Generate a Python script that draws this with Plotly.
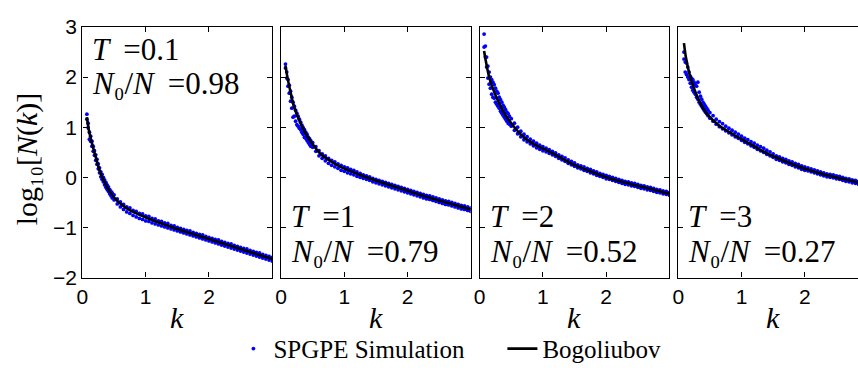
import plotly.graph_objects as go

# ---------------------------------------------------------------------------
# Momentum-space occupation log10[N(k)] : SPGPE simulation vs Bogoliubov theory
# ---------------------------------------------------------------------------

TEMPS = ["0.1", "1", "2", "3"]
COND_FRAC = ["0.98", "0.79", "0.52", "0.27"]

# k samples of the simulation (panels T=0.1, 1, 2)
K_SIM = [0.07, 0.09, 0.11, 0.13, 0.15, 0.17, 0.19, 0.21, 0.23, 0.25, 0.27, 0.29, 0.31,
         0.33, 0.35, 0.37, 0.39, 0.41, 0.43, 0.45, 0.47,
         0.50, 0.55, 0.60, 0.65, 0.70, 0.75, 0.80, 0.85, 0.90, 0.95, 1.00,
         1.05, 1.10, 1.15, 1.20, 1.25, 1.30, 1.35, 1.40, 1.45, 1.50,
         1.55, 1.60, 1.65, 1.70, 1.75, 1.80, 1.85, 1.90, 1.95, 2.00,
         2.05, 2.10, 2.15, 2.20, 2.25, 2.30, 2.35, 2.40, 2.45, 2.50,
         2.55, 2.60, 2.65, 2.70, 2.75, 2.80, 2.85, 2.90, 2.95, 3.00]
# k samples of the simulation (panel T=3)
K_SIM_T3 = [0.09, 0.11, 0.13, 0.15, 0.17, 0.19, 0.21, 0.23, 0.25, 0.27, 0.29, 0.31,
            0.33, 0.35, 0.37, 0.39, 0.41, 0.43, 0.45, 0.47,
            0.50, 0.55, 0.60, 0.65, 0.70, 0.75, 0.80, 0.85, 0.90, 0.95, 1.00,
            1.05, 1.10, 1.15, 1.20, 1.25, 1.30, 1.35, 1.40, 1.45, 1.50,
            1.55, 1.60, 1.65, 1.70, 1.75, 1.80, 1.85, 1.90, 1.95, 2.00,
            2.05, 2.10, 2.15, 2.20, 2.25, 2.30, 2.35, 2.40, 2.45, 2.50,
            2.55, 2.60, 2.65, 2.70, 2.75, 2.80, 2.85]

# SPGPE samples: upper and lower members of the scattered cloud at each k
SIM_T01_HI = [1.26, 1.08, 0.90, 0.82, 0.72, 0.62, 0.53, 0.45, 0.36, 0.27, 0.19, 0.11, 0.06,
              0.00, -0.05, -0.10, -0.15, -0.19, -0.24, -0.28, -0.31,
              -0.35, -0.43, -0.49, -0.54, -0.59, -0.61, -0.66, -0.68, -0.72, -0.73, -0.77,
              -0.78, -0.82, -0.83, -0.87, -0.88, -0.91, -0.92, -0.96, -0.97, -1.00,
              -1.02, -1.04, -1.06, -1.07, -1.10, -1.12, -1.14, -1.15, -1.18, -1.20,
              -1.22, -1.24, -1.25, -1.28, -1.30, -1.32, -1.33, -1.36, -1.38, -1.40,
              -1.42, -1.43, -1.46, -1.48, -1.50, -1.51, -1.54, -1.56, -1.58, -1.60]
SIM_T01_LO = [1.16, 0.99, 0.76, 0.72, 0.62, 0.52, 0.44, 0.34, 0.26, 0.17, 0.09, 0.01, -0.04,
              -0.09, -0.15, -0.20, -0.24, -0.28, -0.33, -0.37, -0.41,
              -0.45, -0.53, -0.59, -0.64, -0.69, -0.72, -0.76, -0.79, -0.82, -0.84, -0.87,
              -0.88, -0.91, -0.93, -0.95, -0.97, -0.99, -1.01, -1.03, -1.05, -1.07,
              -1.09, -1.11, -1.13, -1.15, -1.17, -1.19, -1.21, -1.23, -1.25, -1.27,
              -1.29, -1.31, -1.33, -1.35, -1.37, -1.39, -1.41, -1.43, -1.45, -1.47,
              -1.49, -1.51, -1.53, -1.55, -1.57, -1.59, -1.61, -1.63, -1.65, -1.67]

SIM_T1_HI = [2.26, 2.10, 1.95, 1.84, 1.72, 1.60, 1.50, 1.42, 1.34, 1.28, 1.22, 1.16, 1.10,
             1.04, 0.99, 0.95, 0.90, 0.86, 0.80, 0.77, 0.73,
             0.69, 0.61, 0.53, 0.47, 0.43, 0.38, 0.34, 0.31, 0.27, 0.24, 0.21,
             0.19, 0.16, 0.14, 0.11, 0.08, 0.05, 0.03, 0.01, -0.02, -0.04,
             -0.06, -0.08, -0.10, -0.12, -0.14, -0.16, -0.18, -0.20, -0.22, -0.24,
             -0.26, -0.28, -0.30, -0.32, -0.34, -0.36, -0.37, -0.39, -0.41, -0.43,
             -0.45, -0.47, -0.48, -0.50, -0.52, -0.54, -0.56, -0.57, -0.59, -0.61]
SIM_T1_LO = [2.18, 1.98, 1.82, 1.68, 1.52, 1.38, 1.20, 1.22, 1.12, 1.05, 1.02, 0.98, 0.95,
             0.90, 0.86, 0.80, 0.78, 0.74, 0.70, 0.66, 0.62,
             0.60, 0.52, 0.43, 0.38, 0.33, 0.28, 0.24, 0.21, 0.18, 0.14, 0.12,
             0.09, 0.07, 0.05, 0.02, 0.00, -0.02, -0.04, -0.06, -0.09, -0.11,
             -0.13, -0.15, -0.17, -0.19, -0.21, -0.23, -0.25, -0.27, -0.29, -0.31,
             -0.33, -0.35, -0.37, -0.39, -0.41, -0.43, -0.44, -0.46, -0.48, -0.50,
             -0.52, -0.54, -0.55, -0.57, -0.59, -0.61, -0.63, -0.64, -0.66, -0.68]

SIM_T2_HI = [2.86, 2.62, 2.40, 2.22, 2.10, 2.00, 1.95, 1.90, 1.85, 1.78, 1.72, 1.68, 1.60,
             1.55, 1.50, 1.44, 1.40, 1.35, 1.30, 1.27, 1.22,
             1.17, 1.08, 1.00, 0.92, 0.86, 0.81, 0.76, 0.72, 0.68, 0.64, 0.61,
             0.58, 0.55, 0.52, 0.49, 0.45, 0.42, 0.39, 0.35, 0.32, 0.29,
             0.25, 0.23, 0.21, 0.18, 0.16, 0.13, 0.11, 0.08, 0.06, 0.04,
             0.02, 0.00, -0.02, -0.04, -0.06, -0.08, -0.09, -0.11, -0.12, -0.14,
             -0.16, -0.17, -0.19, -0.20, -0.22, -0.24, -0.25, -0.27, -0.28, -0.30]
SIM_T2_LO = [2.60, 2.40, 2.20, 1.98, 1.86, 1.78, 1.66, 1.60, 1.58, 1.50, 1.46, 1.42, 1.38,
             1.32, 1.28, 1.24, 1.20, 1.16, 1.12, 1.08, 1.06,
             1.02, 0.94, 0.87, 0.81, 0.75, 0.71, 0.67, 0.63, 0.59, 0.56, 0.53,
             0.51, 0.48, 0.45, 0.42, 0.38, 0.35, 0.32, 0.28, 0.25, 0.22,
             0.19, 0.17, 0.14, 0.12, 0.09, 0.07, 0.04, 0.02, 0.00, -0.03,
             -0.04, -0.06, -0.08, -0.10, -0.12, -0.14, -0.15, -0.17, -0.18, -0.20,
             -0.22, -0.23, -0.25, -0.26, -0.28, -0.30, -0.31, -0.33, -0.34, -0.36]

SIM_T3_HI = [2.50, 2.30, 2.28, 2.20, 2.10, 2.02, 1.98, 1.95, 1.90, 1.85, 1.82, 1.90,
             1.70, 1.62, 1.56, 1.50, 1.46, 1.42, 1.38, 1.34,
             1.29, 1.23, 1.16, 1.11, 1.07, 1.02, 0.98, 0.94, 0.90, 0.86, 0.82,
             0.78, 0.75, 0.71, 0.68, 0.64, 0.61, 0.58, 0.54, 0.51, 0.47,
             0.43, 0.41, 0.38, 0.36, 0.33, 0.31, 0.28, 0.26, 0.23, 0.21,
             0.19, 0.17, 0.15, 0.13, 0.11, 0.09, 0.07, 0.06, 0.05, 0.03,
             0.02, 0.00, -0.02, -0.03, -0.05, -0.06, -0.08]
SIM_T3_LO = [2.36, 2.10, 2.05, 2.00, 1.95, 1.88, 1.80, 1.74, 1.70, 1.66, 1.60, 1.56,
             1.50, 1.46, 1.42, 1.38, 1.34, 1.30, 1.27, 1.23,
             1.18, 1.12, 1.06, 1.01, 0.97, 0.93, 0.89, 0.85, 0.81, 0.78, 0.74,
             0.70, 0.67, 0.63, 0.60, 0.56, 0.53, 0.50, 0.46, 0.43, 0.40,
             0.36, 0.34, 0.31, 0.29, 0.26, 0.24, 0.21, 0.19, 0.16, 0.14,
             0.13, 0.11, 0.09, 0.07, 0.05, 0.03, 0.01, 0.00, -0.01, -0.03,
             -0.04, -0.06, -0.08, -0.09, -0.11, -0.12, -0.14]

# Bogoliubov prediction
BOG_T01_K = [0.07, 0.10, 0.15, 0.20, 0.28, 0.36, 0.44, 0.55, 0.70, 0.85, 1.00, 1.25, 1.50,
             1.75, 2.00, 2.25, 2.50, 2.75, 3.00]
BOG_T01_Y = [1.20, 0.95, 0.68, 0.45, 0.10, -0.12, -0.30, -0.47, -0.62, -0.72, -0.80, -0.92,
             -1.03, -1.13, -1.23, -1.33, -1.43, -1.53, -1.63]
BOG_T1_K = [0.07, 0.10, 0.15, 0.20, 0.30, 0.39, 0.50, 0.62, 0.75, 0.94, 1.20, 1.46, 1.75,
            2.00, 2.25, 2.50, 2.75, 3.00]
BOG_T1_Y = [2.23, 2.00, 1.70, 1.43, 1.10, 0.87, 0.66, 0.47, 0.35, 0.21, 0.07, -0.05, -0.17,
            -0.27, -0.37, -0.46, -0.55, -0.64]
BOG_T2_K = [0.07, 0.10, 0.15, 0.20, 0.30, 0.41, 0.55, 0.68, 0.85, 1.09, 1.30, 1.46, 1.75,
            1.98, 2.25, 2.50, 2.75, 3.00]
BOG_T2_Y = [2.52, 2.30, 2.00, 1.80, 1.50, 1.24, 1.00, 0.82, 0.67, 0.52, 0.38, 0.27, 0.12,
            0.01, -0.09, -0.17, -0.25, -0.33]
BOG_T3_K = [0.09, 0.12, 0.18, 0.26, 0.36, 0.47, 0.65, 0.88, 1.10, 1.28, 1.50, 1.75, 1.98,
            2.35, 2.60, 2.90]
BOG_T3_Y = [2.68, 2.40, 2.05, 1.74, 1.45, 1.24, 1.03, 0.85, 0.69, 0.56, 0.42, 0.29, 0.18,
            0.04, -0.03, -0.12]

X_TICKS = [0, 1, 2]
Y_TICKS = [-2, -1, 0, 1, 2, 3]

panels = [
    (K_SIM, SIM_T01_HI, SIM_T01_LO, BOG_T01_K, BOG_T01_Y),
    (K_SIM, SIM_T1_HI, SIM_T1_LO, BOG_T1_K, BOG_T1_Y),
    (K_SIM, SIM_T2_HI, SIM_T2_LO, BOG_T2_K, BOG_T2_Y),
    (K_SIM_T3, SIM_T3_HI, SIM_T3_LO, BOG_T3_K, BOG_T3_Y),
]

W, H = 858, 373
# panel frames in pixels (left, right); vertical extent shared
PANEL_PX = [(77, 268), (277, 468), (477, 668), (677, 858)]
TOP_PX, BOT_PX = 16, 283
UNIT_X = 63.7  # pixels per unit k

SERIF = "'Liberation Serif', 'Times New Roman', Times, 'DejaVu Serif', serif"
SANS = "'Liberation Sans', Arial, Helvetica, sans-serif"
BLUE = "#0000ff"
GAP = " \u2009"  # relation spacing before '='

fig = go.Figure()
for i, (ks, hi, lo, bk, by) in enumerate(panels):
    ax = "" if i == 0 else str(i + 1)
    fig.add_trace(go.Scatter(
        x=ks + ks, y=hi + lo, mode="markers", name="SPGPE Simulation",
        marker=dict(color=BLUE, size=3.8, line=dict(width=0)),
        xaxis="x" + ax, yaxis="y" + ax, showlegend=(i == 0),
    ))
    fig.add_trace(go.Scatter(
        x=bk, y=by, mode="lines", name="Bogoliubov",
        line=dict(color="black", width=2.6, shape="spline", smoothing=0.6),
        xaxis="x" + ax, yaxis="y" + ax, showlegend=(i == 0),
    ))

layout = dict(
    width=W, height=H, margin=dict(l=0, r=0, t=0, b=0),
    paper_bgcolor="white", plot_bgcolor="white",
    font=dict(family=SANS, color="black"),
    showlegend=True,
    legend=dict(orientation="h", x=229 / W, xanchor="left", y=1 - 359 / H, yanchor="middle",
                font=dict(family=SERIF, size=25, color="black"),
                entrywidth=224, entrywidthmode="pixels", itemsizing="trace",
                bgcolor="rgba(0,0,0,0)", borderwidth=0),
)
ydom = [1 - BOT_PX / H, 1 - TOP_PX / H]
annotations = []
for i, (l, r) in enumerate(PANEL_PX):
    ax = "" if i == 0 else str(i + 1)
    xmax = (r - l) / UNIT_X
    last = i == 3
    layout["xaxis" + ax] = dict(
        domain=[l / W, r / W], range=[0, xmax], tickvals=X_TICKS,
        ticks="inside", ticklen=5, tickwidth=1, tickcolor="black",
        showline=True, linecolor="black", linewidth=1.4, mirror="ticks",
        showgrid=False, zeroline=False, anchor="y" + ax,
        tickfont=dict(family=SANS, size=21, color="black"),
    )
    layout["yaxis" + ax] = dict(
        domain=ydom, range=[-2, 3], tickvals=Y_TICKS,
        ticks="inside", ticklen=5, tickwidth=1, tickcolor="black",
        showline=True, linecolor="black", linewidth=1.4,
        mirror=False if last else "ticks",
        showgrid=False, zeroline=False, anchor="x" + ax,
        showticklabels=(i == 0),
        tickfont=dict(family=SANS, size=21, color="black"),
    )
    # temperature / condensate fraction labels
    if i == 0:
        ty, ny = 0.912, 0.774
    else:
        ty, ny = 0.242, 0.103
    annotations.append(dict(
        text="<i>T</i>" + GAP + "=" + TEMPS[i], xref=f"x{ax} domain", yref=f"y{ax} domain",
        x=8 / 191, y=ty, xanchor="left", yanchor="middle", showarrow=False,
        font=dict(family=SERIF, size=31, color="black")))
    annotations.append(dict(
        text="<i>N</i>\u2080/<i>N</i>" + GAP + "=" + COND_FRAC[i],
        xref=f"x{ax} domain", yref=f"y{ax} domain",
        x=8 / 191, y=ny, xanchor="left", yanchor="middle", showarrow=False,
        font=dict(family=SERIF, size=31, color="black")))
    # axis label k
    annotations.append(dict(
        text="<i>k</i>", xref="paper", yref="paper",
        x=(l + 95.5) / W, y=1 - 326 / H, xanchor="center", yanchor="middle",
        showarrow=False, font=dict(family=SERIF, size=30, color="black")))

annotations.append(dict(
    text="log\u2081\u2080[<i>N</i>(<i>k</i>)]", xref="paper", yref="paper",
    x=22 / W, y=1 - 156 / H, xanchor="center", yanchor="middle", textangle=-90,
    showarrow=False, font=dict(family=SERIF, size=30, color="black")))
layout["annotations"] = annotations

fig.update_layout(**layout)
fig.write_html("out.html")
